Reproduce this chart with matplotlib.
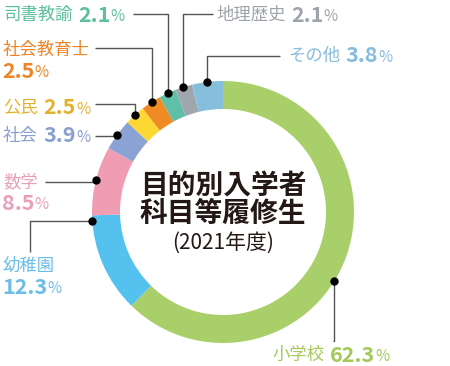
import numpy as np
import matplotlib
matplotlib.use('Agg')
import matplotlib.pyplot as plt

plt.rcParams['font.family'] = ['Noto Sans CJK JP', 'DejaVu Sans']

# data
labels = ['小学校', '幼稚園', '数学', '社会', '公民', '社会教育士', '司書教諭', '地理歴史', 'その他']
shares = [62.3, 12.3, 8.5, 3.9, 2.5, 2.5, 2.1, 2.1, 3.8]
wedge_colors = ['#a8cf6a', '#55c1ef', '#f09db3', '#8ba3d4', '#fdd835',
                '#f08a24', '#5fbfa7', '#9fa6ad', '#87bedb']
text_colors = ['#a4c85a', '#6bbde6', '#e9a0bb', '#889fd0', '#e2b22e',
               '#ee8428', '#5dbf9f', '#9ea4aa', '#86bcdc']
title_lines = ['目的別入学者', '科目等履修生']
subtitle = '(2021年度)'

W, H = 450, 366
cx, cy, R, ring = 223, H - 212, 131, 28

# label layout (pixel coords, y from top): anchor angle clockwise from 12 o'clock,
# text left x, text y, two lines?, elbow kind
layout = {
    '小学校':   (122, 272, 355, False, 'v'),
    '幼稚園':   (266, 3, 266, True, 'h'),
    '数学':     (284, 3, 182, True, 'v'),
    '社会':     (306, 3, 136, False, 'v'),
    '公民':     (318, 3, 108, False, 'v'),
    '社会教育士': (327, 3, 50, True, 'v'),
    '司書教諭': (335, 3, 15, False, 'v'),
    '地理歴史': (342, 216, 15, False, 'v'),
    'その他':   (353, 288, 56, False, 'v'),
}
line_ends = {
    '小学校': (333, 341), '幼稚園': (30, 252), '数学': (45, 182), '社会': (95, 136),
    '公民': (95, 104), '社会教育士': (95, 48), '司書教諭': (133, 14),
    '地理歴史': (213, 14), 'その他': (280, 56),
}

fig = plt.figure(figsize=(W / 100, H / 100), dpi=100)
ax = fig.add_axes([0, 0, 1, 1])
ax.pie(shares, colors=wedge_colors, startangle=90, counterclock=False,
       radius=R, center=(cx, cy), wedgeprops=dict(width=ring, linewidth=0))
ax.set_xlim(0, W)
ax.set_ylim(0, H)
ax.set_aspect('equal')
ax.axis('off')

NUM_FS, PCT_FS, NAME_FS = 15.5, 11, 12.5


def number(anchor_xy, val, color, coords='data', gap=0):
    # bold figure followed by a lighter, smaller % sign
    t = ax.annotate(f'{val}', xy=anchor_xy, xycoords=coords, xytext=(gap, 0),
                    textcoords='offset points', color=color,
                    fontsize=NUM_FS, fontweight='bold', va='center')
    ax.annotate('%', xy=(1, 0.44), xycoords=t, xytext=(0.3, 0), textcoords='offset points',
                color=color, fontsize=PCT_FS, va='center')


for name, val, col in zip(labels, shares, text_colors):
    ang, tx, ty, two, kind = layout[name]
    a = np.deg2rad(ang)
    dx, dy = cx + R * np.sin(a), cy + R * np.cos(a)
    ex, ey = line_ends[name]
    ey = H - ey
    if kind == 'v':
        xs, ys = [ex, dx, dx], [ey, ey, dy]
    else:
        xs, ys = [ex, ex, dx], [ey, dy, dy]
    ax.plot(xs, ys, color='#555555', lw=1, solid_capstyle='butt')
    ax.plot(dx, dy, 'o', color='black', ms=5)

    if two:
        ax.text(tx, H - ty, name, color=col, fontsize=NAME_FS, va='center')
        number((tx - 1, H - ty - 21), val, col)
    else:
        t = ax.text(tx, H - ty, name, color=col, fontsize=NAME_FS, va='center')
        number((1, 0.5), val, col, coords=t, gap=4)

ax.text(cx, H - 186, title_lines[0], ha='center', va='center', fontsize=20,
        fontweight='bold', color='#231815')
ax.text(cx, H - 214, title_lines[1], ha='center', va='center', fontsize=20,
        fontweight='bold', color='#231815')
ax.text(cx, H - 243, subtitle, ha='center', va='center', fontsize=15,
        color='#231815')

fig.savefig('out.png', dpi=100)
